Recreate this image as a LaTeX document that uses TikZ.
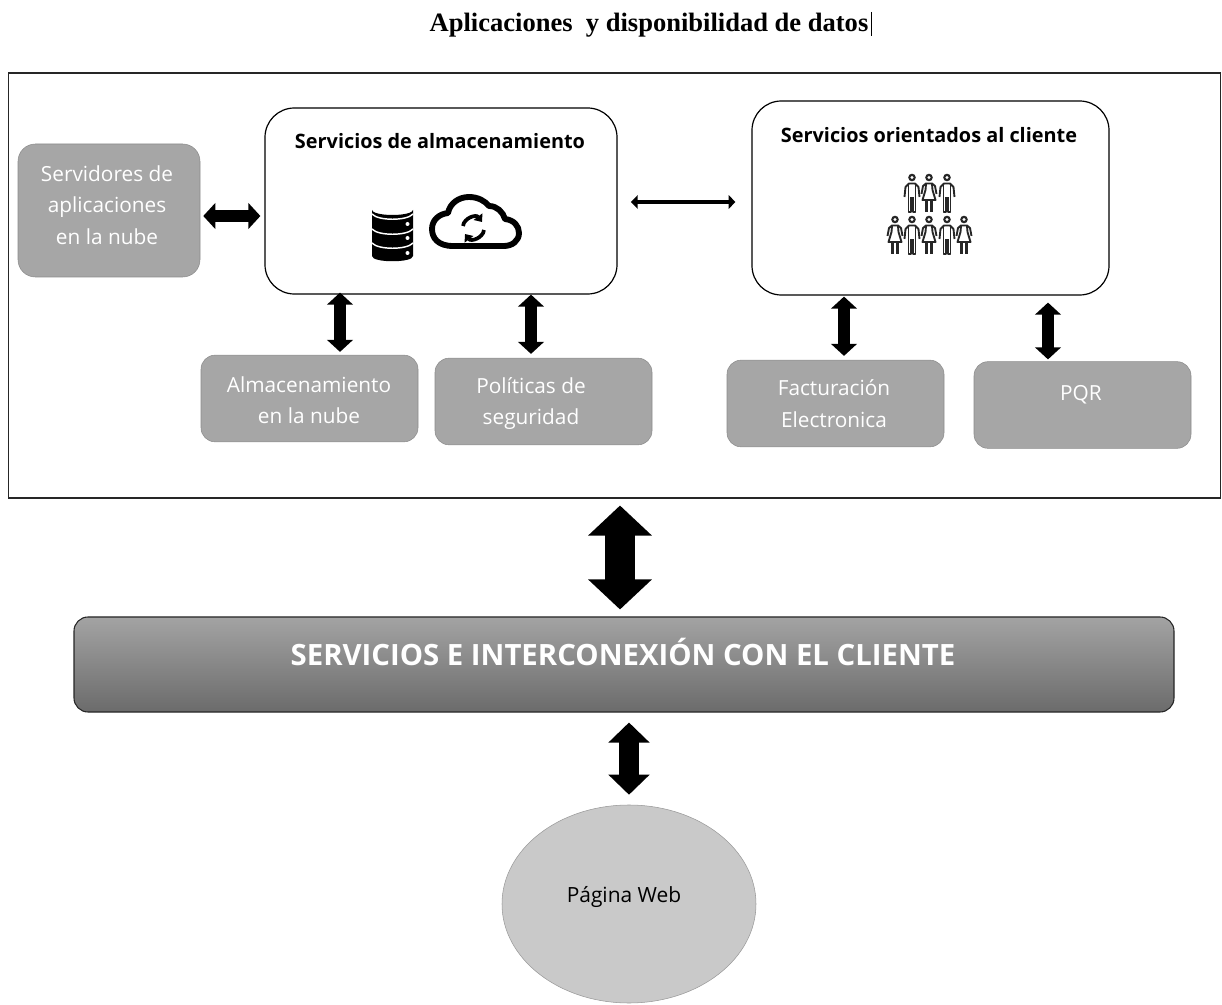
\documentclass[tikz,border=0pt]{standalone}
\usepackage{fontspec}
\setmainfont{Open Sans}
\newfontfamily\titlefont{Liberation Serif}
\usetikzlibrary{shapes.geometric,arrows.meta,positioning,calc}
\definecolor{boxgray}{HTML}{A6A6A6}
\definecolor{boxedge}{HTML}{8C8C8C}
\definecolor{webgray}{HTML}{C9C9C9}

\tikzset{
    grid unit/.style={x=0.75pt, y=-0.75pt},
    graybox/.style={draw=boxedge, rectangle, rounded corners=10.5pt, fill=boxgray, minimum width=162.75pt, minimum height=65pt, inner sep=0pt},
    whitebox/.style={draw=black, line width=0.9pt, rectangle, rounded corners=22pt, fill=white, inner sep=0pt},
    boxtext/.style={text=white, align=center, font=\fontsize{15.6}{23.6}\selectfont},
    headtext/.style={font=\fontsize{14.9}{17}\selectfont\bfseries},
    smallarrow/.style={{Triangle[length=9pt,width=19pt]}-{Triangle[length=9pt,width=19pt]}, line width=8.5pt, black},
    thinarrow/.style={{Triangle[length=5pt,width=10pt]}-{Triangle[length=5pt,width=10pt]}, line width=3.4pt, black, shorten <=10pt, shorten >=12pt},
    midarrow/.style={{Triangle[length=15pt,width=30pt]}-{Triangle[length=15pt,width=30pt]}, line width=15pt, black},
    bigarrow/.style={{Triangle[length=22.5pt,width=46.5pt]}-{Triangle[length=22.5pt,width=46.5pt]}, line width=22.5pt, black},
    varon/.pic={
        \fill[black!85] (0,3.5) circle (3.8);
        \fill[white] (0,3.5) circle (1.7);
        \draw[black!85, line width=1.4pt, line join=round] (-7.5,23) -- (-6.5,13) -- (-3,9.5) -- (3,9.5) -- (6.5,13) -- (7.5,23);
        \draw[black!85, line width=1.4pt, line join=round] (-3.5,10) -- (-3.5,38) -- (-0.7,38) -- (-0.7,23) (3.5,10) -- (3.5,38) -- (0.7,38) -- (0.7,23);
    },
    mujer/.pic={
        \fill[black!85] (0,3.5) circle (3.8);
        \fill[white] (0,3.5) circle (1.7);
        \draw[black!85, line width=1.4pt, line join=round] (-7.5,20) -- (-6,12) -- (-3,9.5) -- (3,9.5) -- (6,12) -- (7.5,20);
        \draw[black!85, line width=1.4pt, line join=round] (-3,10) -- (-3.5,16) -- (-6.5,26) -- (6.5,26) -- (3.5,16) -- (3,10);
        \draw[black!85, line width=2pt] (-2.2,26) -- (-2.2,38) (2.2,26) -- (2.2,38);
    }
}

\begin{document}
\begin{tikzpicture}[grid unit]
\useasboundingbox (0,0) rectangle (1222,1005);

% Title
\node[inner sep=0pt, font=\titlefont\fontsize{19.9}{22}\selectfont\bfseries] (title) at (649,25) {Aplicaciones\ \ y disponibilidad de datos};
\draw[line width=0.7pt] ($(title.east)+(3,-13)$) -- ($(title.east)+(3,11)$);

% Outer frame
\node[draw=black!85, line width=0.8pt, rectangle, minimum width=909pt, minimum height=318.75pt, inner sep=0pt] (frame) at (614.5,285.5) {};

% Main blocks
\node[whitebox, minimum width=264pt, minimum height=139.5pt] (store) at (441,201) {};
\node[headtext] (storehead) at (440,141) {Servicios de almacenamiento};
\node[whitebox, minimum width=267.75pt, minimum height=145.5pt] (client) at (930.5,198) {};
\node[headtext] (clienthead) at (929,135) {Servicios orientados al cliente};

% Gray boxes
\node[graybox, minimum width=136.5pt, minimum height=99.75pt, rounded corners=13pt] (servers) at (109,210.5) {};
\node[boxtext] at (107,205) {Servidores de\\aplicaciones\\en la nube};
\node[graybox] (cloudbox) at (309.5,398.5) {};
\node[boxtext] at (309,400) {Almacenamiento\\en la nube};
\node[graybox] (policy) at (543.5,401.5) {};
\node[boxtext] at (531,403.5) {Políticas de\\seguridad};
\node[graybox] (billing) at (835.5,403.5) {};
\node[boxtext] at (834,403.5) {Facturación\\Electronica};
\node[graybox] (pqr) at (1082.5,405) {};
\node[boxtext] at (1081,395) {PQR};

% Interconnection bar
\node[draw=black!85, line width=0.8pt, rectangle, rounded corners=10.5pt, top color=black!36, bottom color=black!58, minimum width=825pt, minimum height=71.25pt, inner sep=0pt] (bar) at (624,664.5) {};
\node[text=white, font=\fontsize{22}{26}\selectfont\bfseries] (bartext) at (623,652) {SERVICIOS E INTERCONEXIÓN CON EL CLIENTE};

% Web page
\node[draw=black!40, ellipse, fill=webgray, minimum width=190.5pt, minimum height=148.5pt, inner sep=0pt] (web) at (629,904) {};
\node[font=\fontsize{15.7}{18}\selectfont] (webtext) at (624,897) {Página Web};

% Arrows
\draw[smallarrow] ($(servers.east)+(3,5.5)$) -- ($(store.west)+(-4,15)$);
\draw[thinarrow] (store.east |- 0,202) -- (client.west |- 0,202);
\draw[smallarrow] ($(store.south)+(-101,-2)$) -- ($(cloudbox.north)+(30.5,-3)$);
\draw[smallarrow] ($(store.south)+(90,0)$) -- ($(policy.north)+(-12.5,-4)$);
\draw[smallarrow] ($(client.south)+(-86.5,1)$) -- ($(billing.north)+(8.5,-4)$);
\draw[smallarrow] ($(client.south)+(117.5,7)$) -- ($(pqr.north)+(-34.5,-2)$);
\draw[bigarrow] ($(frame.south)+(5.5,7)$) -- ($(bar.north)+(-4,-7)$);
\draw[midarrow] ($(bar.south)+(5,10)$) -- ($(web.north)+(0,-10)$);

% Database icon
\fill[black] (372,210) arc[start angle=180, end angle=0, x radius=20.5, y radius=5] -- (413,256) .. controls (413,263) and (372,263) .. (372,256) -- cycle;
\foreach \dby in {214,229,243} {
    \draw[white, line width=1.1pt] (372,\dby) .. controls (378,\dby+7) and (407,\dby+7) .. (413,\dby);
}
\foreach \dby in {224,238,253} {
    \fill[white] (407.5,\dby) circle (2);
}

% Cloud icon
\draw[black, line width=4.4pt, line join=round] (453,246) .. controls (438,246) and (432,238) .. (432,229)
    .. controls (432,220) and (439,214) .. (448,213)
    .. controls (450,203) and (459,197) .. (469,197)
    .. controls (478,197) and (485,201) .. (489,206)
    .. controls (497,206) and (503,212) .. (505,219)
    .. controls (514,220) and (519,226) .. (519,233)
    .. controls (519,241) and (512,246) .. (504,246) -- cycle;
\draw[black, line width=2.8pt, -{Triangle[length=5pt,width=8pt]}] (463,226) .. controls (464,218) and (476,214) .. (482,222);
\draw[black, line width=2.8pt, -{Triangle[length=5pt,width=8pt]}] (484,230) .. controls (483,238) and (471,242) .. (465,234);

% People icon
\pic at (912,174) {varon};
\pic at (929,174) {mujer};
\pic at (947,174) {varon};
\foreach \px/\kind in {895/mujer,912/varon,929/mujer,947/varon,964/mujer} {
    \pic at (\px,216) {\kind};
}

\end{tikzpicture}
\end{document}
